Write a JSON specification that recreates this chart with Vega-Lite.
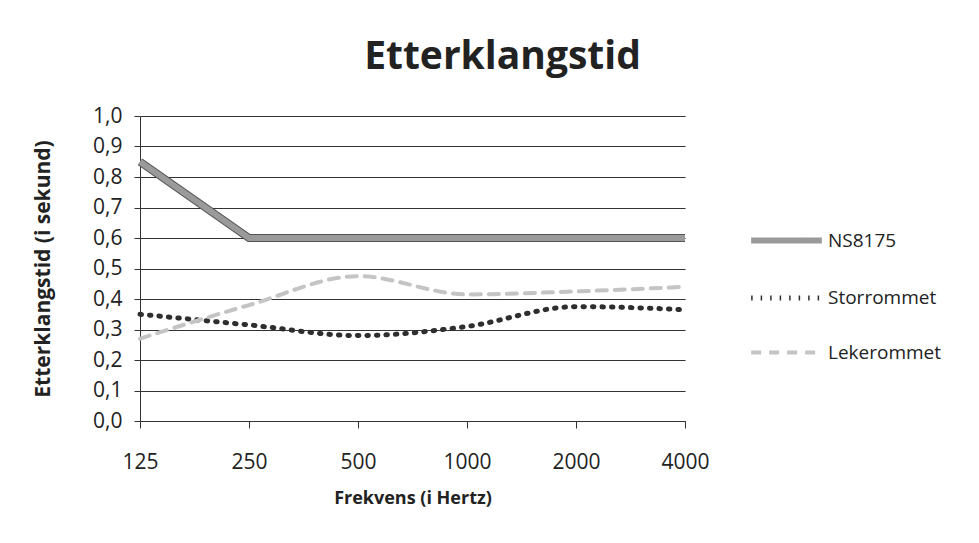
{
  "$schema": "https://vega.github.io/schema/vega-lite/v6.json",
  "width": 545,
  "height": 305,
  "autosize": "none",
  "padding": {"left": 140, "top": 116, "right": 294, "bottom": 122},
  "background": "white",
  "title": {
    "text": "Etterklangstid",
    "font": "Open Sans",
    "fontSize": 39,
    "fontWeight": "bold",
    "color": "#222222",
    "anchor": "middle",
    "dx": 90,
    "offset": 28
  },
  "data": {
    "values": [
      {"freq": "125", "serie": "NS8175", "verdi": 0.85},
      {"freq": "250", "serie": "NS8175", "verdi": 0.6},
      {"freq": "500", "serie": "NS8175", "verdi": 0.6},
      {"freq": "1000", "serie": "NS8175", "verdi": 0.6},
      {"freq": "2000", "serie": "NS8175", "verdi": 0.6},
      {"freq": "4000", "serie": "NS8175", "verdi": 0.6},
      {"freq": "125", "serie": "Storrommet", "verdi": 0.35},
      {"freq": "250", "serie": "Storrommet", "verdi": 0.315},
      {"freq": "500", "serie": "Storrommet", "verdi": 0.28},
      {"freq": "1000", "serie": "Storrommet", "verdi": 0.31},
      {"freq": "2000", "serie": "Storrommet", "verdi": 0.375},
      {"freq": "4000", "serie": "Storrommet", "verdi": 0.365},
      {"freq": "125", "serie": "Lekerommet", "verdi": 0.27},
      {"freq": "250", "serie": "Lekerommet", "verdi": 0.38},
      {"freq": "500", "serie": "Lekerommet", "verdi": 0.475},
      {"freq": "1000", "serie": "Lekerommet", "verdi": 0.415},
      {"freq": "2000", "serie": "Lekerommet", "verdi": 0.425},
      {"freq": "4000", "serie": "Lekerommet", "verdi": 0.44}
    ]
  },
  "encoding": {
    "x": {
      "field": "freq",
      "type": "ordinal",
      "sort": ["125", "250", "500", "1000", "2000", "4000"],
      "scale": {"type": "point", "padding": 0},
      "axis": {
        "title": "Frekvens (i Hertz)",
        "titleFont": "Open Sans",
        "titleFontSize": 18,
        "titleFontWeight": "bold",
        "titleColor": "#222222",
        "titlePadding": 17,
        "labelAngle": 0,
        "labelFont": "Open Sans",
        "labelFontSize": 21,
        "labelColor": "#222222",
        "labelPadding": 23,
        "tickColor": "#333333",
        "tickSize": 7,
        "domainColor": "#333333",
        "grid": false
      }
    },
    "y": {
      "field": "verdi",
      "type": "quantitative",
      "scale": {"domain": [0, 1], "nice": false},
      "axis": {
        "title": "Etterklangstid (i sekund)",
        "titleFont": "Open Sans",
        "titleFontSize": 21,
        "titleFontWeight": "bold",
        "titleColor": "#222222",
        "titlePadding": 39,
        "values": [0, 0.1, 0.2, 0.3, 0.4, 0.5, 0.6, 0.7, 0.8, 0.9, 1.0],
        "labelExpr": "replace(format(datum.value, '.1f'), '.', ',')",
        "labelFont": "Open Sans",
        "labelFontSize": 21,
        "labelColor": "#222222",
        "labelPadding": 12,
        "tickColor": "#333333",
        "tickSize": 6,
        "domainColor": "#333333",
        "grid": true,
        "gridColor": "#333333",
        "gridWidth": 1
      }
    }
  },
  "layer": [
    {
      "transform": [{"filter": "datum.serie === 'NS8175'"}],
      "mark": {"type": "line", "stroke": "#555555", "strokeWidth": 8, "interpolate": "linear"},
      "encoding": {}
    },
    {
      "transform": [{"filter": "datum.serie === 'NS8175'"}],
      "mark": {"type": "line", "interpolate": "linear", "strokeCap": "butt"},
      "encoding": {
        "color": {"field": "serie", "type": "nominal"},
        "strokeDash": {"field": "serie", "type": "nominal"},
        "strokeWidth": {"field": "serie", "type": "nominal"}
      }
    },
    {
      "transform": [{"filter": "datum.serie !== 'NS8175'"}],
      "mark": {"type": "line", "interpolate": "monotone", "strokeCap": "round"},
      "encoding": {
        "color": {
          "field": "serie",
          "type": "nominal",
          "scale": {"domain": ["NS8175", "Storrommet", "Lekerommet"], "range": ["#9a9a9a", "#2e2e2e", "#c4c4c4"]},
          "legend": {
            "title": null,
            "orient": "none",
            "legendX": 608,
            "legendY": 86,
            "symbolType": "stroke",
            "symbolSize": 5000,
            "labelFont": "Open Sans",
            "labelFontSize": 19,
            "labelColor": "#222222",
            "labelOffset": 3,
            "rowPadding": 7
          }
        },
        "strokeDash": {
          "field": "serie",
          "type": "nominal",
          "scale": {"domain": ["NS8175", "Storrommet", "Lekerommet"], "range": [[1, 0], [1.5, 8], [10, 8]]}
        },
        "strokeWidth": {
          "field": "serie",
          "type": "nominal",
          "scale": {"domain": ["NS8175", "Storrommet", "Lekerommet"], "range": [6, 4, 4]}
        }
      }
    }
  ],
  "config": {"view": {"stroke": null}}
}
